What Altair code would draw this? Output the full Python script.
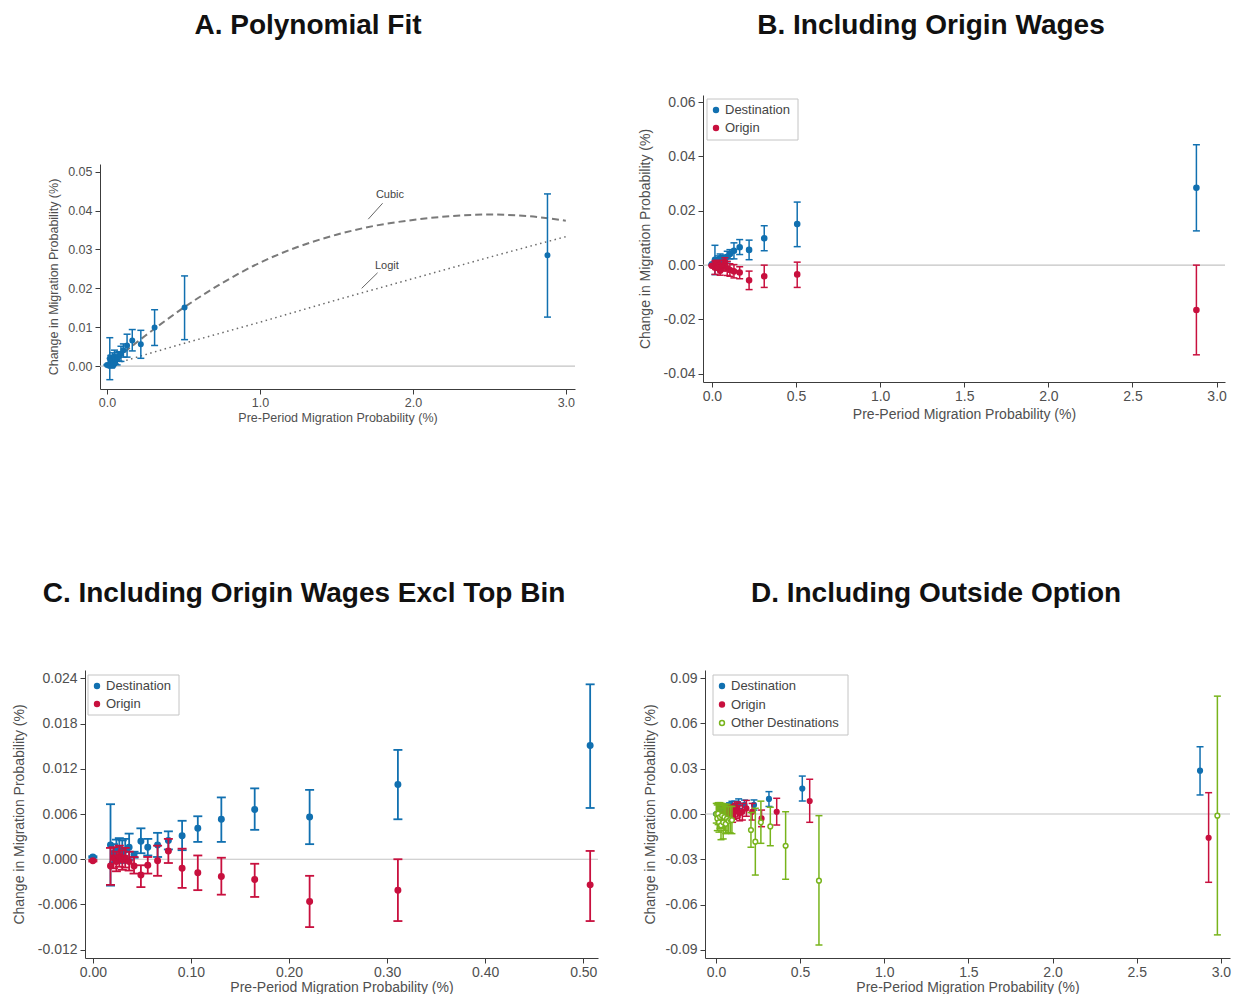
import altair as alt
import pandas as pd

W, H = 1226, 986
FONT = "Liberation Sans"
BLUE, RED, GREEN = "#1170b0", "#c8103e", "#78b41c"
AX = "#3c3c3c"
LAB = "#4f4f4f"
ZERO = "#c3c3c3"

# ---------------- data ----------------
bins = [0.000, 0.018, 0.021, 0.024, 0.027, 0.030, 0.033, 0.037, 0.042, 0.049, 0.056,
        0.066, 0.077, 0.091, 0.107, 0.131, 0.165, 0.221, 0.311, 0.507, 2.880]

dest_y = [0.0003, 0.0019, 0.0008, 0.0012, 0.0014, 0.0010, 0.0012, 0.0016, 0.0006, 0.0024, 0.0016,
          0.0019, 0.0025, 0.0031, 0.0041, 0.0053, 0.0066, 0.0056, 0.0099, 0.0151, 0.0285]
dest_lo = [0.0002, -0.0035, -0.0004, -0.0002, 0.0000, -0.0005, -0.0003, -0.0001, 0.0002, 0.0008, 0.0005,
           0.0003, 0.0013, 0.0012, 0.0023, 0.0023, 0.0039, 0.0020, 0.0053, 0.0068, 0.0126]
dest_hi = [0.0004, 0.0073, 0.0020, 0.0026, 0.0028, 0.0025, 0.0027, 0.0034, 0.0010, 0.0041, 0.0027,
           0.0035, 0.0037, 0.0051, 0.0057, 0.0082, 0.0094, 0.0092, 0.0145, 0.0232, 0.0443]

orig_y = [-0.0002, -0.0009, 0.0002, -0.0003, 0.0004, -0.0001, 0.0002, -0.0003, -0.0009, -0.0021, -0.0008,
          -0.0002, 0.0011, -0.0012, -0.0018, -0.0023, -0.0027, -0.0056, -0.0041, -0.0034, -0.0165]
orig_lo = [-0.0003, -0.0034, -0.0012, -0.0016, -0.0010, -0.0014, -0.0011, -0.0015, -0.0019, -0.0037, -0.0019,
           -0.0022, -0.0005, -0.0038, -0.0041, -0.0047, -0.0050, -0.0090, -0.0082, -0.0082, -0.0330]
orig_hi = [-0.0001, 0.0015, 0.0016, 0.0010, 0.0018, 0.0012, 0.0015, 0.0010, 0.0003, -0.0008, 0.0003,
           0.0018, 0.0027, 0.0014, 0.0005, 0.0002, -0.0006, -0.0022, 0.0000, 0.0011, 0.0000]

# panel A fitted curves
curve_x = [0.0, 0.25, 0.5, 0.75, 1.0, 1.25, 1.5, 1.75, 2.0, 2.25, 2.5, 2.75, 3.0]
cubic_y = [0.0, 0.0078, 0.0150, 0.0213, 0.0266, 0.0307, 0.0338, 0.0361, 0.0376, 0.0386, 0.0390, 0.0386, 0.0374]
logit_x = [0.0, 0.5, 1.0, 1.5, 2.0, 2.5, 3.0]
logit_y = [0.0, 0.0058, 0.0113, 0.0170, 0.0225, 0.0280, 0.0333]
ann_text = ["Cubic", "Logit"]
ann_x = [1.85, 1.83]
ann_y = [0.0441, 0.0258]
lead_x1 = [1.802, 1.769]
lead_y1 = [0.0419, 0.0240]
lead_x2 = [1.708, 1.665]
lead_y2 = [0.0378, 0.0200]

# panel D (including outside option)
d_dest_x = [0.003, 0.020, 0.023, 0.026, 0.029, 0.032, 0.035, 0.040, 0.045, 0.052, 0.060,
            0.070, 0.081, 0.095, 0.112, 0.135, 0.170, 0.226, 0.315, 0.513, 2.876]
d_dest_y = [0.0000, 0.0015, 0.0010, 0.0020, 0.0025, 0.0018, 0.0030, 0.0028, 0.0022, 0.0035, 0.0040,
            0.0038, 0.0048, 0.0052, 0.0055, 0.0068, 0.0060, 0.0060, 0.0100, 0.0168, 0.0287]
d_dest_lo = [-0.0005, -0.0040, -0.0015, -0.0010, -0.0005, -0.0010, 0.0000, 0.0000, 0.0002, 0.0010, 0.0015,
             0.0010, 0.0022, 0.0020, 0.0025, 0.0035, 0.0028, 0.0026, 0.0050, 0.0086, 0.0126]
d_dest_hi = [0.0005, 0.0070, 0.0035, 0.0050, 0.0055, 0.0046, 0.0060, 0.0056, 0.0042, 0.0060, 0.0065,
             0.0066, 0.0074, 0.0084, 0.0085, 0.0100, 0.0092, 0.0093, 0.0148, 0.0251, 0.0445]

d_orig_x = [0.050, 0.068, 0.071, 0.074, 0.077, 0.080, 0.083, 0.087, 0.092, 0.099, 0.106,
            0.116, 0.127, 0.141, 0.157, 0.181, 0.215, 0.271, 0.361, 0.557, 2.927]
d_orig_y = [0.0005, 0.0010, -0.0005, 0.0015, 0.0000, 0.0010, 0.0005, 0.0015, 0.0000, -0.0010, 0.0010,
            0.0020, 0.0030, 0.0005, 0.0015, 0.0037, 0.0015, -0.0029, 0.0015, 0.0086, -0.0157]
d_orig_lo = [-0.0040, -0.0040, -0.0050, -0.0030, -0.0045, -0.0035, -0.0040, -0.0030, -0.0040, -0.0055, -0.0035,
             -0.0030, -0.0020, -0.0045, -0.0040, -0.0015, -0.0040, -0.0084, -0.0073, -0.0055, -0.0452]
d_orig_hi = [0.0050, 0.0060, 0.0040, 0.0060, 0.0045, 0.0055, 0.0050, 0.0060, 0.0040, 0.0035, 0.0055,
             0.0070, 0.0080, 0.0055, 0.0070, 0.0090, 0.0070, 0.0026, 0.0104, 0.0230, 0.0141]

d_oth_x = [0.002, 0.008, 0.013, 0.018, 0.024, 0.030, 0.036, 0.043, 0.050, 0.058, 0.066,
           0.075, 0.085, 0.095, 0.208, 0.234, 0.267, 0.323, 0.414, 0.612, 2.979]
d_oth_y = [0.0000, -0.0030, 0.0002, -0.0055, -0.0020, -0.0075, -0.0010, -0.0055, -0.0020, -0.0065, -0.0030,
           -0.0045, -0.0035, -0.0040, -0.0106, -0.0183, -0.0055, -0.0082, -0.0210, -0.0441, -0.0011]
d_oth_lo = [-0.0060, -0.0110, -0.0070, -0.0120, -0.0095, -0.0170, -0.0090, -0.0165, -0.0110, -0.0130, -0.0125,
            -0.0125, -0.0125, -0.0130, -0.0220, -0.0404, -0.0194, -0.0210, -0.0432, -0.0867, -0.0800]
d_oth_hi = [0.0070, 0.0060, 0.0075, 0.0065, 0.0075, 0.0040, 0.0070, 0.0055, 0.0065, 0.0050, 0.0065,
            0.0050, 0.0050, 0.0050, 0.0010, 0.0038, 0.0085, 0.0045, 0.0015, -0.0011, 0.0780]

titles = ["A. Polynomial Fit", "B. Including Origin Wages",
          "C. Including Origin Wages Excl Top Bin", "D. Including Outside Option"]
legend_B = ["Destination", "Origin"]
legend_C = ["Destination", "Origin"]
legend_D = ["Destination", "Origin", "Other Destinations"]

X_TITLE = "Pre-Period Migration Probability (%)"
Y_TITLE = "Change in Migration Probability (%)"


def fe(f):
    return "replace(format(datum.value, '" + f + "'), '\u2212', '-')"


def build_panel(p, series, extra=None):
    xs = alt.Scale(domain=p["xd"], range=p["xr"], nice=False, zero=False)
    ys = alt.Scale(domain=p["yd"], range=p["yr"], nice=False, zero=False)
    common = dict(grid=False, ticks=True, tickSize=5, tickWidth=1, tickColor=AX,
                  domainColor=AX, domainWidth=1, labelColor=LAB, titleColor=LAB,
                  labelFont=FONT, titleFont=FONT, labelFontSize=p["lfs"],
                  titleFontSize=p["tfs"], titleFontWeight="normal",
                  labelFlush=False, labelOverlap=False)
    xa = alt.Axis(orient="bottom", offset=p["yr"][0] - H, values=p["xt"],
                  labelExpr=fe(p["xf"]), title=X_TITLE, labelPadding=p["xlp"],
                  titlePadding=p["xtp"], **common)
    ya = alt.Axis(orient="left", offset=-p["xr"][0], values=p["yt"],
                  labelExpr=fe(p["yf"]), title=Y_TITLE, labelPadding=3,
                  titlePadding=p["ytp"], **common)

    def X(f):
        return alt.X(f, type="quantitative", scale=xs, axis=xa)

    def Y(f):
        return alt.Y(f, type="quantitative", scale=ys, axis=ya)

    names = [s["name"] for s in series]
    cscale = alt.Scale(domain=names, range=[s["stroke"] for s in series])
    fscale = alt.Scale(domain=names, range=[s["fill"] for s in series])

    zero_df = pd.DataFrame({"x0": [p["xd"][0]], "x1": [p["xd"][1]], "y0": [0.0]})
    layers = [alt.Chart(zero_df).mark_rule(color=ZERO, strokeWidth=1.2).encode(
        x=X("x0"), x2="x1", y=Y("y0"))]
    if extra is not None:
        layers += extra(X, Y)
    for s in series:
        df = pd.DataFrame({"x": s["x"], "y": s["y"], "lo": s["lo"], "hi": s["hi"],
                           "series": [s["name"]] * len(s["x"])})
        base = alt.Chart(df)
        col = alt.Color("series:N", scale=cscale, legend=None)
        layers.append(base.mark_rule(strokeWidth=p["lw"]).encode(
            x=X("x"), y=Y("lo"), y2="hi", color=col))
        for f in ("lo", "hi"):
            layers.append(base.mark_tick(orient="horizontal", size=p["cap"],
                                         thickness=p["lw"], opacity=1).encode(
                x=X("x"), y=Y(f), color=col))
        layers.append(base.mark_point(shape="circle", size=p["ps"], strokeWidth=1.5,
                                      opacity=1, fillOpacity=1).encode(
            x=X("x"), y=Y("y"),
            fill=alt.Fill("series:N", scale=fscale, legend=None),
            stroke=alt.Stroke("series:N", scale=cscale, legend=None)))
    return alt.layer(*layers)


def curves_A(X, Y):
    cub = pd.DataFrame({"x": curve_x, "y": cubic_y})
    lg = pd.DataFrame({"x": logit_x, "y": logit_y})
    ann = pd.DataFrame({"t": ann_text, "x": ann_x, "y": ann_y})
    lead = pd.DataFrame({"x": lead_x1, "y": lead_y1, "x2": lead_x2, "y2": lead_y2})
    return [
        alt.Chart(lg).mark_line(color="#6a6a6a", strokeWidth=1.5, strokeDash=[1.5, 3.5],
                                interpolate="monotone").encode(x=X("x"), y=Y("y")),
        alt.Chart(cub).mark_line(color="#7a7a7a", strokeWidth=2, strokeDash=[7, 4],
                                 interpolate="monotone").encode(x=X("x"), y=Y("y")),
        alt.Chart(lead).mark_rule(color="#555555", strokeWidth=0.9).encode(
            x=X("x"), y=Y("y"), x2="x2", y2="y2"),
        alt.Chart(ann).mark_text(font=FONT, fontSize=11, color="#444444").encode(
            x=X("x"), y=Y("y"), text="t:N"),
    ]


def legend_layers(names, strokes, fills, lx, ly, w, h, step):
    one = pd.DataFrame({"k": [0]})
    out = [alt.Chart(one).mark_rect(fill="white", stroke="#c4c4c4", strokeWidth=1).encode(
        x=alt.value(lx), x2=alt.value(lx + w), y=alt.value(ly), y2=alt.value(ly + h))]
    for i, (nm, sc, fc) in enumerate(zip(names, strokes, fills)):
        yy = ly + 11 + step * i
        out.append(alt.Chart(one).mark_point(shape="circle", size=24, strokeWidth=1.5,
                                             stroke=sc, fill=fc, opacity=1, fillOpacity=1).encode(
            x=alt.value(lx + 9), y=alt.value(yy)))
        out.append(alt.Chart(pd.DataFrame({"t": [nm]})).mark_text(
            font=FONT, fontSize=13, color="#444444", align="left", baseline="middle").encode(
            x=alt.value(lx + 18), y=alt.value(yy), text="t:N"))
    return out


pA = dict(xd=[-0.046, 3.06], xr=[92, 567], yd=[-0.0059, 0.052], yr=[381, 156],
          xt=[0.0, 1.0, 2.0, 3.0], xf=".1f",
          yt=[0.0, 0.01, 0.02, 0.03, 0.04, 0.05], yf=".2f",
          lfs=12.5, tfs=12.5, xlp=2, xtp=3, ytp=7, lw=1.5, cap=7, ps=20)
pB = dict(xd=[-0.053, 3.05], xr=[695, 1217], yd=[-0.043, 0.0626], yr=[374, 87],
          xt=[0.0, 0.5, 1.0, 1.5, 2.0, 2.5, 3.0], xf=".1f",
          yt=[-0.04, -0.02, 0.0, 0.02, 0.04, 0.06], yf=".2f",
          lfs=14, tfs=14, xlp=2, xtp=4, ytp=11, lw=1.5, cap=7, ps=26)
pC = dict(xd=[-0.008, 0.515], xr=[77, 590], yd=[-0.0131, 0.0251], yr=[950, 662],
          xt=[0.0, 0.1, 0.2, 0.3, 0.4, 0.5], xf=".2f",
          yt=[-0.012, -0.006, 0.0, 0.006, 0.012, 0.018, 0.024], yf=".3f",
          lfs=14, tfs=14, xlp=2, xtp=1, ytp=11, lw=1.8, cap=9, ps=30)
pD = dict(xd=[-0.065, 3.054], xr=[697, 1222], yd=[-0.0953, 0.0953], yr=[950, 662],
          xt=[0.0, 0.5, 1.0, 1.5, 2.0, 2.5, 3.0], xf=".1f",
          yt=[-0.09, -0.06, -0.03, 0.0, 0.03, 0.06, 0.09], yf=".2f",
          lfs=14, tfs=14, xlp=2, xtp=1, ytp=8, lw=1.5, cap=7, ps=22)

sA = [dict(name="Destination", x=bins, y=dest_y, lo=dest_lo, hi=dest_hi, stroke=BLUE, fill=BLUE)]
sB = [dict(name="Destination", x=bins, y=dest_y, lo=dest_lo, hi=dest_hi, stroke=BLUE, fill=BLUE),
      dict(name="Origin", x=bins, y=orig_y, lo=orig_lo, hi=orig_hi, stroke=RED, fill=RED)]
sC = [dict(name="Destination", x=bins[:-1], y=dest_y[:-1], lo=dest_lo[:-1], hi=dest_hi[:-1],
           stroke=BLUE, fill=BLUE),
      dict(name="Origin", x=bins[:-1], y=orig_y[:-1], lo=orig_lo[:-1], hi=orig_hi[:-1],
           stroke=RED, fill=RED)]
sD = [dict(name="Destination", x=d_dest_x, y=d_dest_y, lo=d_dest_lo, hi=d_dest_hi, stroke=BLUE, fill=BLUE),
      dict(name="Origin", x=d_orig_x, y=d_orig_y, lo=d_orig_lo, hi=d_orig_hi, stroke=RED, fill=RED),
      dict(name="Other Destinations", x=d_oth_x, y=d_oth_y, lo=d_oth_lo, hi=d_oth_hi,
           stroke=GREEN, fill="white")]

panelA = build_panel(pA, sA, curves_A)
panelB = build_panel(pB, sB)
panelC = build_panel(pC, sC)
panelD = build_panel(pD, sD)

legs = []
legs += legend_layers(legend_B, [BLUE, RED], [BLUE, RED], 699, 91, 91, 41, 18)
legs += legend_layers(legend_C, [BLUE, RED], [BLUE, RED], 80, 667, 91, 40, 18)
legs += legend_layers(legend_D, [BLUE, RED, GREEN], [BLUE, RED, "white"], 705, 667, 135, 60, 18.5)

title_pos = [(300, 17.5), (923, 17.5), (296, 586), (928, 586)]
title_layers = []
for t, (tx, ty) in zip(titles, title_pos):
    title_layers.append(
        alt.Chart(pd.DataFrame({"t": [t]})).mark_text(
            font=FONT, fontSize=28, fontWeight="bold", color="#111111",
            align="center", baseline="middle").encode(
            x=alt.value(tx), y=alt.value(ty), text="t:N"))

chart = alt.layer(panelA, panelB, panelC, panelD, *legs, *title_layers).resolve_scale(
    x="independent", y="independent", color="independent",
    fill="independent", stroke="independent").resolve_axis(
    x="independent", y="independent").properties(
    width=W, height=H, autosize=alt.AutoSizeParams(type="none"), padding=0,
    background="white").configure_view(strokeWidth=0)

chart.save("out.html", embed_options={"renderer": "svg", "actions": False})
